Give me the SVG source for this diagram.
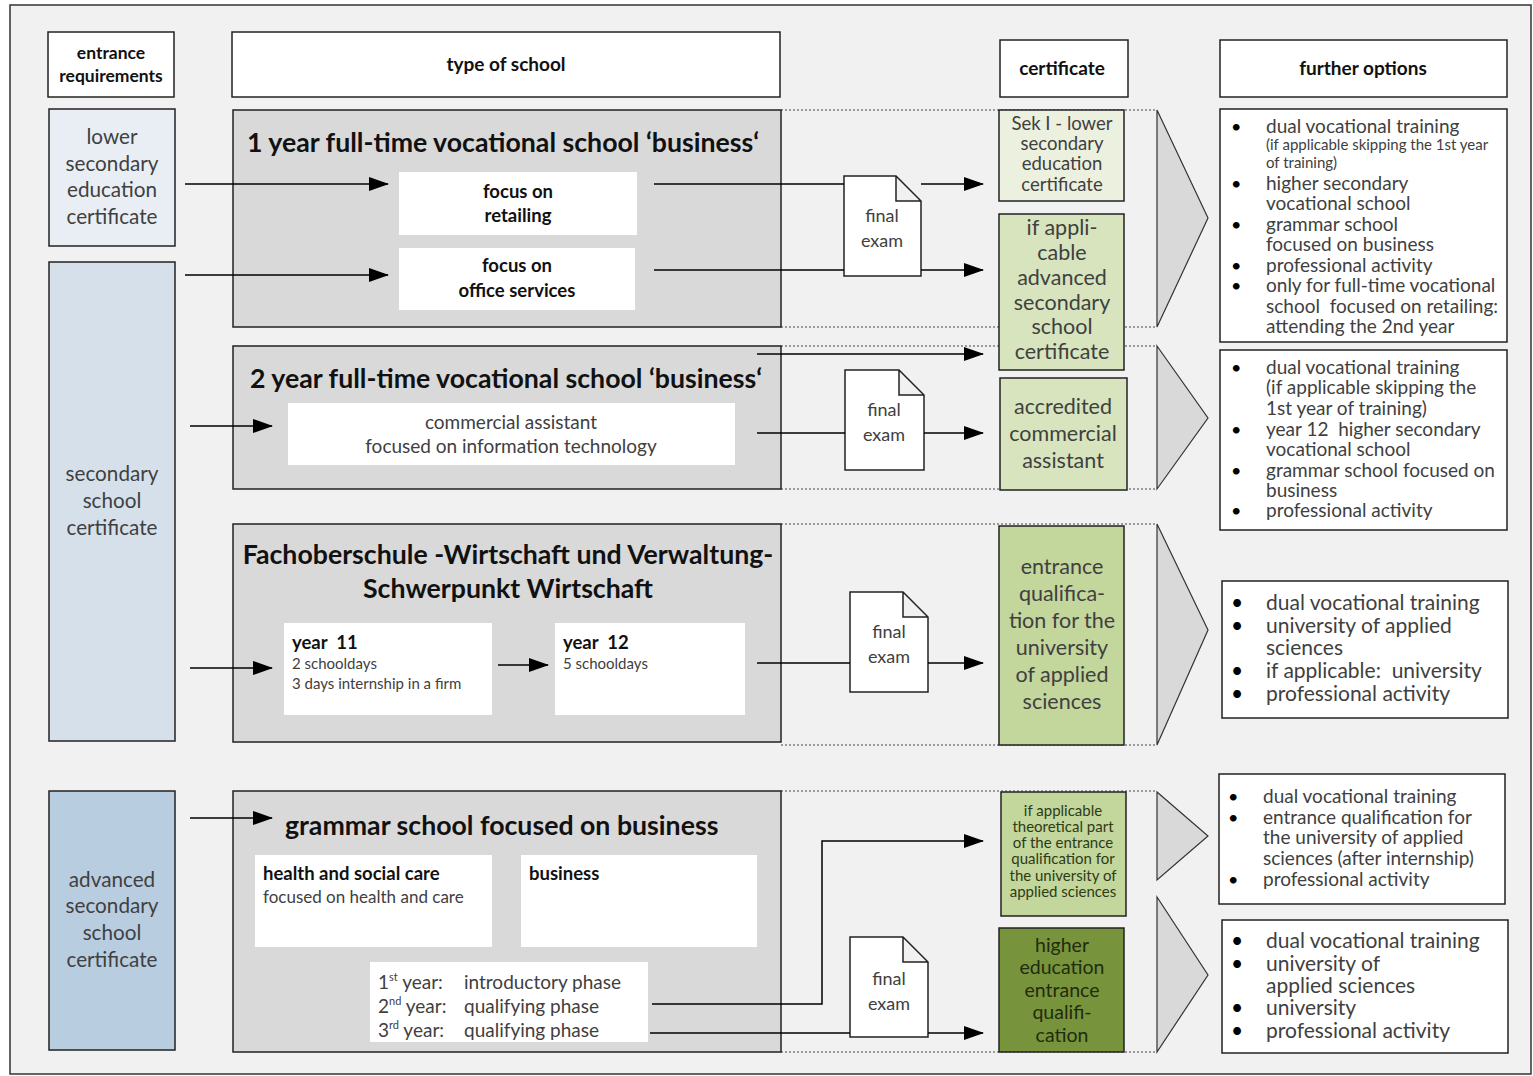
<svg xmlns="http://www.w3.org/2000/svg" width="1533" height="1076" viewBox="0 0 1533 1076">
<defs>
<marker id="ah" markerWidth="20" markerHeight="14" refX="19" refY="7" orient="auto" markerUnits="userSpaceOnUse">
<path d="M0,0 L20,7 L0,14 Z" fill="#000"/>
</marker>
<style>
text{font-family:Lato,"Liberation Sans",sans-serif;}
.hd{font-size:19px;font-weight:bold;fill:#111;text-anchor:middle;}
.box{stroke:#222;stroke-width:1.5;}
.white{fill:#fff;stroke:#222;stroke-width:1.5;}
.school{fill:#d9d9d9;stroke:#222;stroke-width:1.5;}
.inner{fill:#fff;}
.title{font-weight:bold;fill:#111;}
.big{font-size:26.7px;}
.req{font-size:20.7px;fill:#404040;text-anchor:middle;}
.cert{fill:#404040;text-anchor:middle;}
.opt{font-size:19px;fill:#404040;}
.opt20{font-size:21px;fill:#404040;}
.bul{fill:#000;}
.ln{stroke:#000;stroke-width:1.5;fill:none;}
.dot{stroke:#444;stroke-width:1;stroke-dasharray:2,2;fill:none;}
.chev{fill:#d9d9d9;stroke:#333;stroke-width:1.2;}
.doc{fill:#fff;stroke:#222;stroke-width:1.5;}
.doct{font-size:18px;fill:#404040;text-anchor:middle;}
.g{fill:#404040;}
</style>
</defs>
<rect x="10" y="5" width="1521" height="1069" fill="#f1f1f1" stroke="#333" stroke-width="1.5"/>

<g id="headers">
<g id="h-entrance"><rect x="48" y="32" width="126" height="65" class="white"/>
<text class="hd" x="111" y="59" style="font-size:17.5px">entrance</text>
<text class="hd" x="111" y="82" style="font-size:17.5px">requirements</text></g>
<g id="h-type"><rect x="232" y="32" width="548" height="65" class="white"/>
<text class="hd" x="506" y="71">type of school</text></g>
<g id="h-cert"><rect x="1000" y="40" width="128" height="57" class="white"/>
<text class="hd" x="1062" y="75">certificate</text></g>
<g id="h-further"><rect x="1220" y="40" width="287" height="57" class="white"/>
<text class="hd" x="1363" y="75">further options</text></g>
</g>

<g id="region-outlines">
<path class="dot" d="M781,110 H1157 M781,327 H1157"/>
<polygon class="chev" points="1157,110 1208,218 1157,327"/>
<path class="dot" d="M781,346 H1157 M781,489 H1157"/>
<polygon class="chev" points="1157,346 1208,418 1157,489"/>
<path class="dot" d="M781,524 H1157 M781,745 H1157"/>
<polygon class="chev" points="1157,524 1208,630 1157,745"/>
<path class="dot" d="M781,791 H1157 M781,1052 H1157"/>
<polygon class="chev" points="1157,792 1208,836 1157,880"/>
<polygon class="chev" points="1157,897 1208,975 1157,1052"/>
</g>

<g id="req-lower"><rect x="49" y="109" width="126" height="137" fill="#e9eef5" class="box"/>
<text class="req" x="112" y="144">lower</text>
<text class="req" x="112" y="171">secondary</text>
<text class="req" x="112" y="197">education</text>
<text class="req" x="112" y="224">certificate</text></g>

<g id="req-secondary"><rect x="49" y="262" width="126" height="479" fill="#d6e0eb" class="box"/>
<text class="req" x="112" y="481">secondary</text>
<text class="req" x="112" y="508">school</text>
<text class="req" x="112" y="535">certificate</text></g>

<g id="req-advanced"><rect x="49" y="791" width="126" height="259" fill="#b9cde1" class="box"/>
<text class="req" x="112" y="887">advanced</text>
<text class="req" x="112" y="913">secondary</text>
<text class="req" x="112" y="940">school</text>
<text class="req" x="112" y="967">certificate</text></g>

<g id="school-1year">
<rect x="233" y="110" width="548" height="217" class="school"/>
<text class="title big" x="247" y="152">1 year full-time vocational school ‘business‘</text>
<rect x="399" y="172" width="238" height="63" class="inner"/>
<text class="title" x="518" y="198" text-anchor="middle" style="font-size:18.5px">focus on</text>
<text class="title" x="518" y="222" text-anchor="middle" style="font-size:18.5px">retailing</text>
<rect x="399" y="248" width="236" height="62" class="inner"/>
<text class="title" x="517" y="272" text-anchor="middle" style="font-size:18.5px">focus on</text>
<text class="title" x="517" y="297" text-anchor="middle" style="font-size:18.5px">office services</text>
</g>

<g id="school-2year">
<rect x="233" y="346" width="548" height="143" class="school"/>
<text class="title big" x="250" y="388">2 year full-time vocational school ‘business‘</text>
<rect x="288" y="403" width="447" height="62" class="inner"/>
<text class="g" x="511" y="429" text-anchor="middle" style="font-size:19px">commercial assistant</text>
<text class="g" x="511" y="453" text-anchor="middle" style="font-size:19px">focused on information technology</text>
</g>

<g id="school-fos">
<rect x="233" y="524" width="548" height="218" class="school"/>
<text class="title big" x="508" y="564" text-anchor="middle">Fachoberschule -Wirtschaft und Verwaltung-</text>
<text class="title big" x="508" y="598" text-anchor="middle">Schwerpunkt Wirtschaft</text>
<rect x="284" y="623" width="208" height="92" class="inner"/>
<text class="title" x="292" y="649" style="font-size:18.5px" xml:space="preserve">year  11</text>
<text class="g" x="292" y="669" style="font-size:15px">2 schooldays</text>
<text class="g" x="292" y="689" style="font-size:15px">3 days internship in a firm</text>
<rect x="555" y="623" width="190" height="92" class="inner"/>
<text class="title" x="563" y="649" style="font-size:18.5px" xml:space="preserve">year  12</text>
<text class="g" x="563" y="669" style="font-size:15px">5 schooldays</text>
</g>

<g id="school-grammar">
<rect x="233" y="791" width="548" height="261" class="school"/>
<text class="title big" x="285" y="835">grammar school focused on business</text>
<rect x="255" y="855" width="237" height="92" class="inner"/>
<text class="title" x="263" y="880" style="font-size:18.5px">health and social care</text>
<text class="g" x="263" y="903" style="font-size:17px">focused on health and care</text>
<rect x="521" y="855" width="236" height="92" class="inner"/>
<text class="title" x="529" y="880" style="font-size:18.5px">business</text>
<rect x="370" y="962" width="278" height="80" class="inner"/>
<text class="g" x="378" y="989" style="font-size:19px">1<tspan dy="-8" style="font-size:11px">st</tspan><tspan dy="8"> year:</tspan></text>
<text class="g" x="464" y="989" style="font-size:19px">introductory phase</text>
<text class="g" x="378" y="1013" style="font-size:19px">2<tspan dy="-8" style="font-size:11px">nd</tspan><tspan dy="8"> year:</tspan></text>
<text class="g" x="464" y="1013" style="font-size:19px">qualifying phase</text>
<text class="g" x="378" y="1037" style="font-size:19px">3<tspan dy="-8" style="font-size:11px">rd</tspan><tspan dy="8"> year:</tspan></text>
<text class="g" x="464" y="1037" style="font-size:19px">qualifying phase</text>
</g>

<g id="exam-1"><path class="doc" d="M844,176 H896 L921,201 V276 H844 Z M896,176 V201 H921"/>
<text class="doct" x="882" y="222">final</text><text class="doct" x="882" y="247">exam</text></g>
<g id="exam-2"><path class="doc" d="M845,370 H899 L924,395 V470 H845 Z M899,370 V395 H924"/>
<text class="doct" x="884" y="416">final</text><text class="doct" x="884" y="441">exam</text></g>
<g id="exam-3"><path class="doc" d="M850,592 H903 L928,617 V692 H850 Z M903,592 V617 H928"/>
<text class="doct" x="889" y="638">final</text><text class="doct" x="889" y="663">exam</text></g>
<g id="exam-4"><path class="doc" d="M850,937 H903 L928,962 V1037 H850 Z M903,937 V962 H928"/>
<text class="doct" x="889" y="985">final</text><text class="doct" x="889" y="1010">exam</text></g>

<g id="cert-sek1"><rect x="999" y="110" width="125" height="91" fill="#ebf1de" class="box"/>
<text class="cert" x="1062" y="130" style="font-size:18.5px">Sek I - lower</text>
<text class="cert" x="1062" y="150" style="font-size:18.5px">secondary</text>
<text class="cert" x="1062" y="170" style="font-size:18.5px">education</text>
<text class="cert" x="1062" y="191" style="font-size:18.5px">certificate</text></g>

<g id="cert-advanced"><rect x="999" y="214" width="125" height="156" fill="#d7e4bd" class="box"/>
<text class="cert" x="1062" y="235" style="font-size:21.5px">if appli-</text>
<text class="cert" x="1062" y="260" style="font-size:21.5px">cable</text>
<text class="cert" x="1062" y="285" style="font-size:21.5px">advanced</text>
<text class="cert" x="1062" y="310" style="font-size:21.5px">secondary</text>
<text class="cert" x="1062" y="334" style="font-size:21.5px">school</text>
<text class="cert" x="1062" y="359" style="font-size:21.5px">certificate</text></g>

<g id="cert-accredited"><rect x="1000" y="378" width="127" height="112" fill="#d7e4bd" class="box"/>
<text class="cert" x="1063" y="414" style="font-size:21.5px">accredited</text>
<text class="cert" x="1063" y="441" style="font-size:21.5px">commercial</text>
<text class="cert" x="1063" y="468" style="font-size:21.5px">assistant</text></g>

<g id="cert-fhr"><rect x="999" y="526" width="125" height="219" fill="#c3d69b" class="box"/>
<text class="cert" x="1062" y="574" style="font-size:21.5px">entrance</text>
<text class="cert" x="1062" y="601" style="font-size:21.5px">qualifica-</text>
<text class="cert" x="1062" y="628" style="font-size:21.5px">tion for the</text>
<text class="cert" x="1062" y="655" style="font-size:21.5px">university</text>
<text class="cert" x="1062" y="682" style="font-size:21.5px">of applied</text>
<text class="cert" x="1062" y="709" style="font-size:21.5px">sciences</text></g>

<g id="cert-theory"><rect x="1001" y="792" width="125" height="124" fill="#c3d69b" class="box"/>
<text class="cert" x="1063" y="816" style="font-size:15px;fill:#2e3b18">if applicable</text>
<text class="cert" x="1063" y="832" style="font-size:15px;fill:#2e3b18">theoretical part</text>
<text class="cert" x="1063" y="848" style="font-size:15px;fill:#2e3b18">of the entrance</text>
<text class="cert" x="1063" y="864" style="font-size:15px;fill:#2e3b18">qualification for</text>
<text class="cert" x="1063" y="881" style="font-size:15px;fill:#2e3b18">the university of</text>
<text class="cert" x="1063" y="897" style="font-size:15px;fill:#2e3b18">applied sciences</text></g>

<g id="cert-abitur"><rect x="999" y="928" width="125" height="124" fill="#77933c" class="box"/>
<text class="cert" x="1062" y="952" style="font-size:19.5px;fill:#222c0c">higher</text>
<text class="cert" x="1062" y="974" style="font-size:19.5px;fill:#222c0c">education</text>
<text class="cert" x="1062" y="997" style="font-size:19.5px;fill:#222c0c">entrance</text>
<text class="cert" x="1062" y="1019" style="font-size:19.5px;fill:#222c0c">qualifi-</text>
<text class="cert" x="1062" y="1042" style="font-size:19.5px;fill:#222c0c">cation</text></g>

<g id="opt-1"><rect x="1220" y="109" width="287" height="233" class="white"/>
<text class="bul" x="1231" y="133" style="font-size:18px">•</text>
<text class="opt" x="1266" y="133">dual vocational training</text>
<text class="g" x="1266" y="150" style="font-size:15px">(if applicable skipping the 1st year</text>
<text class="g" x="1266" y="168" style="font-size:15px">of training)</text>
<text class="bul" x="1231" y="190" style="font-size:18px">•</text>
<text class="opt" x="1266" y="190">higher secondary</text>
<text class="opt" x="1266" y="210">vocational school</text>
<text class="bul" x="1231" y="231" style="font-size:18px">•</text>
<text class="opt" x="1266" y="231">grammar school</text>
<text class="opt" x="1266" y="251">focused on business</text>
<text class="bul" x="1231" y="272" style="font-size:18px">•</text>
<text class="opt" x="1266" y="272">professional activity</text>
<text class="bul" x="1231" y="292" style="font-size:18px">•</text>
<text class="opt" x="1266" y="292">only for full-time vocational</text>
<text class="opt" x="1266" y="313" xml:space="preserve">school  focused on retailing:</text>
<text class="opt" x="1266" y="333">attending the 2nd year</text></g>

<g id="opt-2"><rect x="1220" y="350" width="287" height="180" class="white"/>
<text class="bul" x="1231" y="374" style="font-size:18px">•</text>
<text class="opt" x="1266" y="374">dual vocational training</text>
<text class="opt" x="1266" y="394">(if applicable skipping the</text>
<text class="opt" x="1266" y="415">1st year of training)</text>
<text class="bul" x="1231" y="436" style="font-size:18px">•</text>
<text class="opt" x="1266" y="436" xml:space="preserve">year 12  higher secondary</text>
<text class="opt" x="1266" y="456">vocational school</text>
<text class="bul" x="1231" y="477" style="font-size:18px">•</text>
<text class="opt" x="1266" y="477">grammar school focused on</text>
<text class="opt" x="1266" y="497">business</text>
<text class="bul" x="1231" y="517" style="font-size:18px">•</text>
<text class="opt" x="1266" y="517">professional activity</text></g>

<g id="opt-3"><rect x="1222" y="581" width="286" height="137" class="white"/>
<text class="bul" x="1231" y="610" style="font-size:21px">•</text>
<text class="opt20" x="1266" y="610">dual vocational training</text>
<text class="bul" x="1231" y="633" style="font-size:21px">•</text>
<text class="opt20" x="1266" y="633">university of applied</text>
<text class="opt20" x="1266" y="655">sciences</text>
<text class="bul" x="1231" y="678" style="font-size:21px">•</text>
<text class="opt20" x="1266" y="678" xml:space="preserve">if applicable:  university</text>
<text class="bul" x="1231" y="701" style="font-size:21px">•</text>
<text class="opt20" x="1266" y="701">professional activity</text></g>

<g id="opt-4"><rect x="1219" y="774" width="286" height="130" class="white"/>
<text class="bul" x="1228" y="803" style="font-size:18px">•</text>
<text class="opt" x="1263" y="803">dual vocational training</text>
<text class="bul" x="1228" y="824" style="font-size:18px">•</text>
<text class="opt" x="1263" y="824">entrance qualification for</text>
<text class="opt" x="1263" y="844">the university of applied</text>
<text class="opt" x="1263" y="865">sciences (after internship)</text>
<text class="bul" x="1228" y="886" style="font-size:18px">•</text>
<text class="opt" x="1263" y="886">professional activity</text></g>

<g id="opt-5"><rect x="1222" y="920" width="286" height="133" class="white"/>
<text class="bul" x="1231" y="948" style="font-size:21px">•</text>
<text class="opt20" x="1266" y="948">dual vocational training</text>
<text class="bul" x="1231" y="971" style="font-size:21px">•</text>
<text class="opt20" x="1266" y="971">university of</text>
<text class="opt20" x="1266" y="993">applied sciences</text>
<text class="bul" x="1231" y="1015" style="font-size:21px">•</text>
<text class="opt20" x="1266" y="1015">university</text>
<text class="bul" x="1231" y="1038" style="font-size:21px">•</text>
<text class="opt20" x="1266" y="1038">professional activity</text></g>

<g id="connectors">
<line class="ln" x1="185" y1="184" x2="388" y2="184" marker-end="url(#ah)"/>
<line class="ln" x1="185" y1="275" x2="388" y2="275" marker-end="url(#ah)"/>
<line class="ln" x1="654" y1="184" x2="844" y2="184"/>
<line class="ln" x1="921" y1="184" x2="983" y2="184" marker-end="url(#ah)"/>
<line class="ln" x1="654" y1="270" x2="844" y2="270"/>
<line class="ln" x1="921" y1="270" x2="983" y2="270" marker-end="url(#ah)"/>
<line class="ln" x1="757" y1="354" x2="983" y2="354" marker-end="url(#ah)"/>
<line class="ln" x1="190" y1="426" x2="272" y2="426" marker-end="url(#ah)"/>
<line class="ln" x1="757" y1="433" x2="845" y2="433"/>
<line class="ln" x1="924" y1="433" x2="983" y2="433" marker-end="url(#ah)"/>
<line class="ln" x1="190" y1="668" x2="272" y2="668" marker-end="url(#ah)"/>
<line class="ln" x1="498" y1="665" x2="548" y2="665" marker-end="url(#ah)"/>
<line class="ln" x1="757" y1="663" x2="850" y2="663"/>
<line class="ln" x1="928" y1="663" x2="983" y2="663" marker-end="url(#ah)"/>
<line class="ln" x1="190" y1="818" x2="272" y2="818" marker-end="url(#ah)"/>
<polyline class="ln" points="652,1004 822,1004 822,841 983,841" marker-end="url(#ah)"/>
<line class="ln" x1="650" y1="1033" x2="850" y2="1033"/>
<line class="ln" x1="928" y1="1033" x2="983" y2="1033" marker-end="url(#ah)"/>
</g>
</svg>
